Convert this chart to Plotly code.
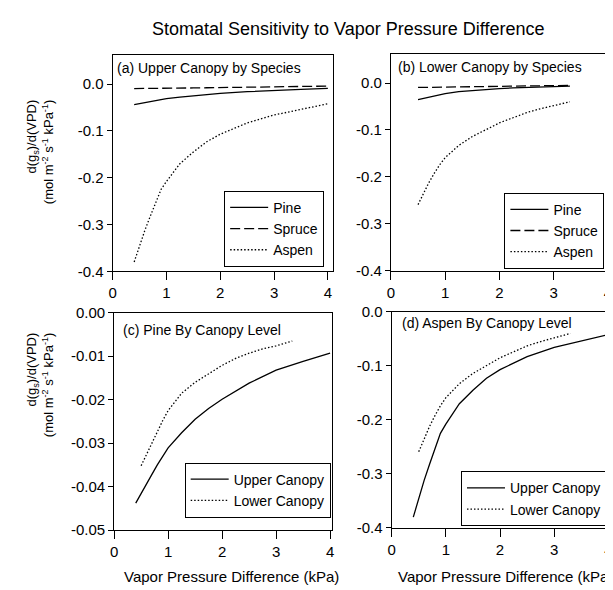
import plotly.graph_objects as go

# VPD values (kPa) along each canopy level curve
vpd_upper = [0.4, 0.5, 0.6, 0.7, 0.8, 0.9, 1.0, 1.25, 1.5, 1.75, 2.0, 2.5, 3.0, 3.5, 4.0]
vpd_lower = [0.5, 0.6, 0.7, 0.8, 0.9, 1.0, 1.25, 1.5, 1.75, 2.0, 2.25, 2.5, 2.75, 3.0, 3.3]

# d(gs)/d(VPD), mol m-2 s-1 kPa-1
pine_upper = [-0.0438, -0.0415, -0.0395, -0.0372, -0.0350, -0.0330, -0.0311, -0.0276,
              -0.0245, -0.0220, -0.0199, -0.0162, -0.0132, -0.0112, -0.0093]
spruce_upper = [-0.0095, -0.0095, -0.0094, -0.0093, -0.0092, -0.0090, -0.0088, -0.0085,
                -0.0082, -0.0078, -0.0074, -0.0066, -0.0058, -0.0050, -0.0042]
aspen_upper = [-0.380, -0.344, -0.312, -0.282, -0.252, -0.225, -0.208, -0.170,
               -0.145, -0.123, -0.107, -0.083, -0.066, -0.054, -0.042]

pine_lower = [-0.0352, -0.0325, -0.0300, -0.0275, -0.0248, -0.0225, -0.0185, -0.0160,
              -0.0140, -0.0121, -0.0105, -0.0093, -0.0083, -0.0076, -0.0065]
spruce_lower = [-0.0095, -0.0094, -0.0093, -0.0092, -0.0091, -0.0090, -0.0087, -0.0083,
                -0.0079, -0.0075, -0.0070, -0.0065, -0.0060, -0.0056, -0.0050]
aspen_lower = [-0.259, -0.235, -0.212, -0.192, -0.174, -0.159, -0.133, -0.114,
               -0.099, -0.085, -0.074, -0.063, -0.055, -0.048, -0.040]

x_ticks = [0, 1, 2, 3, 4]
y_ticks = [0, -0.1, -0.2, -0.3, -0.4]
y_tick_text = ["0.0", "-0.1", "-0.2", "-0.3", "-0.4"]
y_ticks_pine = [0, -0.01, -0.02, -0.03, -0.04, -0.05]
y_tick_text_pine = ["0.00", "-0.01", "-0.02", "-0.03", "-0.04", "-0.05"]

FONT = "Liberation Sans, Arial, Helvetica, sans-serif"
# the page body has an 8px margin, so the figure is a bit smaller than the window
OFF = 8
W, H = 613 - OFF, 590 - OFF
SOLID = "solid"
DASHED = "10px,4px"
DOTTED = "1.5px,2px"


def px_x(p):
    return (p - OFF) / W


def px_y(p):
    return 1 - (p - OFF) / H


fig = go.Figure()


def add_line(x, y, name, dash, axis, legend):
    fig.add_trace(go.Scatter(
        x=x, y=y, name=name, mode="lines",
        line=dict(color="black", width=1.3, dash=dash),
        xaxis="x" + axis, yaxis="y" + axis, legend=legend,
    ))


# (a) upper canopy by species
add_line(vpd_upper, pine_upper, "Pine", SOLID, "", "legend")
add_line(vpd_upper, spruce_upper, "Spruce", DASHED, "", "legend")
add_line(vpd_upper, aspen_upper, "Aspen", DOTTED, "", "legend")
# (b) lower canopy by species
add_line(vpd_lower, pine_lower, "Pine", SOLID, "2", "legend2")
add_line(vpd_lower, spruce_lower, "Spruce", DASHED, "2", "legend2")
add_line(vpd_lower, aspen_lower, "Aspen", DOTTED, "2", "legend2")
# (c) pine by canopy level
add_line(vpd_upper, pine_upper, "Upper Canopy", SOLID, "3", "legend3")
add_line(vpd_lower, pine_lower, "Lower Canopy", DOTTED, "3", "legend3")
# (d) aspen by canopy level
add_line(vpd_upper, aspen_upper, "Upper Canopy", SOLID, "4", "legend4")
add_line(vpd_lower, aspen_lower, "Lower Canopy", DOTTED, "4", "legend4")


def xax(left, right, rng, anchor):
    return dict(domain=[px_x(left), min(px_x(right), 1)], range=rng, anchor=anchor,
                tickvals=x_ticks, ticks="outside", ticklen=8, tickwidth=1,
                tickcolor="black", showline=True, linecolor="black", linewidth=1,
                mirror=True, showgrid=False, zeroline=False, ticklabeloverflow="allow",
                tickfont=dict(size=15, color="black", family=FONT))


def yax(top, bottom, rng, anchor, vals, text, mirror=True):
    return dict(domain=[px_y(bottom), px_y(top)], range=rng, anchor=anchor,
                tickvals=vals, ticktext=text, ticks="outside", ticklen=5, tickwidth=1,
                tickcolor="black", showline=True, linecolor="black", linewidth=1,
                mirror=mirror, showgrid=False, zeroline=False,
                tickfont=dict(size=15, color="black", family=FONT))


def leg(left, top):
    return dict(x=px_x(left), y=px_y(top), xanchor="left", yanchor="top",
                bordercolor="black", borderwidth=1, bgcolor="white", itemwidth=38,
                font=dict(size=14, color="black", family=FONT))


fig.update_layout(
    width=W, height=H,
    margin=dict(l=0, r=0, t=0, b=0),
    paper_bgcolor="white", plot_bgcolor="white",
    font=dict(family=FONT, color="black"),
    showlegend=True,
    xaxis=xax(110, 333, [0, 4.09], "y"),
    yaxis=yax(47, 270, [-0.4, 0.0625], "x", y_ticks, y_tick_text),
    xaxis2=xax(392, 613, [0, 4.02], "y2"),
    yaxis2=yax(46, 269.5, [-0.4, 0.062], "x2", y_ticks, y_tick_text, mirror=False),
    xaxis3=xax(111.5, 332, [0, 4.03], "y3"),
    yaxis3=yax(312.7, 536.5, [-0.05, 0], "x3", y_ticks_pine, y_tick_text_pine),
    xaxis4=xax(392.7, 613, [0, 4.01], "y4"),
    yaxis4=yax(311.7, 534.3, [-0.4, 0], "x4", y_ticks, y_tick_text, mirror=False),
    legend=leg(223, 187),
    legend2=leg(507, 189),
    legend3=leg(183, 467),
    legend4=leg(463, 476),
)

panel_labels = [
    ("(a) Upper Canopy by Species", 112, 61),
    ("(b) Lower Canopy by Species", 397, 59),
    ("(c) Pine By Canopy Level", 118, 330),
    ("(d) Aspen By Canopy Level", 401, 323),
]
for text, x, y in panel_labels:
    fig.add_annotation(text=text, x=px_x(x), y=px_y(y), xref="paper", yref="paper",
                       xanchor="left", yanchor="middle", showarrow=False,
                       font=dict(size=14, color="black", family=FONT))

fig.add_annotation(text="Stomatal Sensitivity to Vapor Pressure Difference",
                   x=px_x(349.5), y=px_y(20), xref="paper", yref="paper",
                   xanchor="center", yanchor="middle", showarrow=False,
                   font=dict(size=18, color="black", family=FONT))

y_title = "d(g<sub>s</sub>)/d(VPD)<br>(mol m<sup>-2</sup> s<sup>-1</sup> kPa<sup>-1</sup>)"
for top in (92, 332):
    fig.add_annotation(text=y_title, x=px_x(36), y=px_y(top), xref="paper", yref="paper",
                       xanchor="center", yanchor="top", textangle=-90, align="right",
                       showarrow=False, font=dict(size=13, color="black", family=FONT))

for cx in (230, 508):
    fig.add_annotation(text="Vapor Pressure Difference (kPa)", x=px_x(cx), y=px_y(584),
                       xref="paper", yref="paper", xanchor="center", yanchor="middle",
                       showarrow=False, font=dict(size=15, color="black", family=FONT))

fig.write_html("out.html")
